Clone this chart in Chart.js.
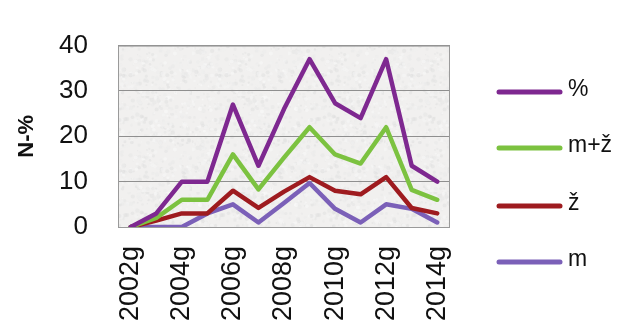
<!DOCTYPE html>
<html>
<head>
<meta charset="utf-8">
<script src="https://cdn.jsdelivr.net/npm/chart.js@4/dist/chart.umd.min.js"></script>
<style>
  html, body { margin: 0; padding: 0; background: #ffffff; }
  #wrap { width: 623px; height: 336px; }
</style>
</head>
<body>
<div id="wrap"><canvas id="c" width="623" height="336"></canvas></div>
<script>
// Years on the category axis
const years = ['2002g','2003g','2004g','2005g','2006g','2007g','2008g','2009g','2010g','2011g','2012g','2013g','2014g'];
// Series
const pct   = [0, 3, 10, 10, 27, 13.5, 26, 37, 27.3, 24, 37, 13.5, 10];
const mz    = [0, 2, 6, 6, 16, 8.3, 15.3, 22, 16, 14, 22, 8.2, 6];
const z     = [0, 1.4, 3, 3, 8, 4.2, 7.8, 11, 8, 7.2, 11, 4.2, 3];
const m     = [0, 0, 0, 3, 5, 1, 5.3, 9.7, 4, 1, 5, 4, 1];
const seriesNames = ['%', 'm+ž', 'ž', 'm'];
const seriesColors = ['#7e2890', '#7cc240', '#9e1b1f', '#7b60b8'];
const yTicks = [0, 10, 20, 30, 40];

const FONT = 'Liberation Sans, Arial, sans-serif';

// Light mottled paper texture for the plot area (deterministic hash noise)
function makeTexture() {
  const c = document.createElement('canvas');
  c.width = 96; c.height = 96;
  const g = c.getContext('2d');
  g.fillStyle = '#f1f0ef';
  g.fillRect(0, 0, 96, 96);
  let s = 12345;
  const next = () => { s = (s * 1103515245 + 12345) & 0x7fffffff; return s / 0x7fffffff; };
  for (let i = 0; i < 600; i++) {
    const x = next() * 96, y = next() * 96, r = 0.6 + next() * 1.6;
    const v = 222 + Math.floor(next() * 30);
    g.fillStyle = 'rgba(' + v + ',' + v + ',' + v + ',0.5)';
    g.beginPath(); g.arc(x, y, r, 0, Math.PI * 2); g.fill();
  }
  return c;
}

const plotFrame = {
  id: 'plotFrame',
  beforeDraw(chart) {
    const { ctx, chartArea: a } = chart;
    ctx.save();
    ctx.fillStyle = ctx.createPattern(makeTexture(), 'repeat');
    ctx.fillRect(a.left, a.top, a.right - a.left, a.bottom - a.top);
    ctx.restore();
  },
  beforeDatasetsDraw(chart) {
    const { ctx, chartArea: a } = chart;
    ctx.save();
    ctx.strokeStyle = '#9a9a9a';
    ctx.lineWidth = 1;
    ctx.strokeRect(a.left + 0.5, a.top + 0.5, a.right - a.left - 1, a.bottom - a.top);
    ctx.restore();
  }
};

// Legend on the right: line swatch + name, in series order
const sideLegend = {
  id: 'sideLegend',
  afterDraw(chart) {
    const { ctx } = chart;
    const x0 = 499, x1 = 560, ys = [92, 148, 206, 262];
    ctx.save();
    seriesNames.forEach((name, i) => {
      ctx.strokeStyle = seriesColors[i];
      ctx.lineWidth = 5;
      ctx.lineCap = 'round';
      ctx.beginPath(); ctx.moveTo(x0, ys[i]); ctx.lineTo(x1, ys[i]); ctx.stroke();
      ctx.fillStyle = '#111';
      ctx.font = '23px ' + FONT;
      ctx.textBaseline = 'middle';
      ctx.fillText(name, x1 + 8, ys[i] - 2);
    });
    ctx.restore();
  }
};

const values = [pct, mz, z, m];
new Chart(document.getElementById('c'), {
  type: 'line',
  data: {
    labels: years,
    datasets: values.map((v, i) => ({
      label: seriesNames[i],
      data: v,
      borderColor: seriesColors[i],
      backgroundColor: seriesColors[i],
      borderWidth: 4.5,
      borderCapStyle: 'round',
      borderJoinStyle: 'round',
      pointRadius: 0,
      tension: 0,
      order: i
    })).reverse()
  },
  options: {
    responsive: false,
    animation: false,
    layout: { padding: { left: 0, top: 41, right: 173, bottom: 0 } },
    plugins: { legend: { display: false }, tooltip: { enabled: false } },
    scales: {
      x: {
        type: 'category',
        offset: true,
        grid: { display: false, drawTicks: false },
        border: { display: false },
        ticks: {
          autoSkip: false,
          minRotation: 90,
          maxRotation: 90,
          padding: 19,
          color: '#111',
          font: { family: FONT, size: 27 },
          callback: (v, i) => (i % 2 === 0 ? years[i] : '')
        },
        afterFit: s => { s.height = 109; }
      },
      y: {
        min: 0,
        max: 40,
        afterBuildTicks: s => { s.ticks = yTicks.map(v => ({ value: v })); },
        grid: { color: '#8f8f8f', lineWidth: 1, drawTicks: false },
        border: { display: false },
        ticks: {
          padding: 30,
          color: '#111',
          font: { family: FONT, size: 26 }
        },
        title: {
          display: true,
          text: 'N-%',
          color: '#111',
          font: { family: FONT, size: 22, weight: 'bold' },
          padding: { top: 14, bottom: 0 }
        },
        afterFit: s => { s.width = 118; }
      }
    }
  },
  plugins: [plotFrame, sideLegend]
});
</script>
</body>
</html>
